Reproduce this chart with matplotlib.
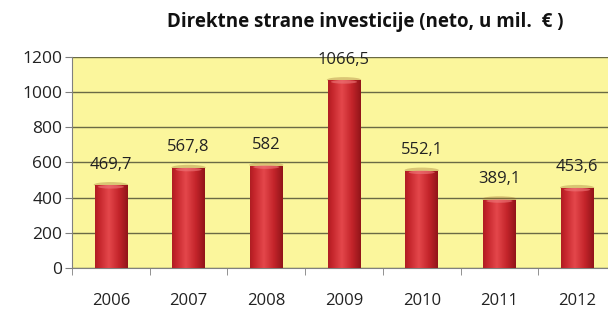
import matplotlib.pyplot as plt
import numpy as np
from matplotlib.colors import LinearSegmentedColormap
from matplotlib.patches import Ellipse

# podaci
godine = ['2006', '2007', '2008', '2009', '2010', '2011', '2012']
investicije = [469.7, 567.8, 582, 1066.5, 552.1, 389.1, 453.6]
oznake = ['469,7', '567,8', '582', '1066,5', '552,1', '389,1', '453,6']

plt.rcParams['font.family'] = ['Open Sans', 'DejaVu Sans']

fig = plt.figure(figsize=(6.08, 3.11), dpi=100)
ax = fig.add_axes([72 / 608, 43 / 311, 544 / 608, 211 / 311])
ax.set_facecolor('#fbf69c')

x = np.arange(len(godine))
sirina = 0.42
bars = ax.bar(x, investicije, width=sirina, color='#c8262b', zorder=3)

# cilindricni efekt - horizontalni gradijent preko svakog stupca
grad = np.linspace(0, 1, 64)
prof = np.clip(1 - np.abs(grad - 0.42) * 1.6, 0, 1)
cmap = LinearSegmentedColormap.from_list('cil', ['#8a1216', '#c3242a', '#e4474b'])
for b in bars:
    x0, w, h = b.get_x(), b.get_width(), b.get_height()
    # tamna sjena iznad vrha
    ax.add_patch(Ellipse((x0 + w / 2, h + 4), w * 1.05, 30, color='#9a6a2a',
                         alpha=0.35, zorder=2.5, lw=0))
    img = ax.imshow(prof[np.newaxis, :], cmap=cmap, aspect='auto',
                    extent=(x0, x0 + w, 0, h), zorder=4, vmin=0, vmax=1)
    img.set_clip_path(b)
    # svjetliji vrh
    ax.add_patch(Ellipse((x0 + w / 2, h - 8), w * 0.8, 20,
                         color='#ef7a7c', alpha=0.6, zorder=5, lw=0))

for xi, v, t in zip(x, investicije, oznake):
    ax.text(xi, v + 118, t, ha='center', va='center', fontsize=12, color='#222222', zorder=6)

ax.set_xlim(-0.5, 6.5)
ax.set_ylim(0, 1200)
ax.set_yticks(range(0, 1201, 200))
ax.grid(axis='y', color='#6a6a44', linewidth=1, zorder=1)
ax.set_axisbelow(True)

ax.set_xticks(x)
ax.set_xticklabels(godine, fontsize=12, color='#222222')
ax.tick_params(axis='x', which='major', length=0, pad=18)
ax.set_xticks(np.arange(-0.5, 6.6, 1), minor=True)
ax.tick_params(axis='x', which='minor', length=5, color='#808080', direction='out')
ax.tick_params(axis='y', labelsize=12.5, labelcolor='#222222', length=5, color='#808080', pad=2)

for s in ['top', 'right']:
    ax.spines[s].set_visible(False)
ax.spines['left'].set_color('#808080')
ax.spines['bottom'].set_color('#808080')

fig.text(0.60, 0.93, 'Direktne strane investicije (neto, u mil.  € )', ha='center',
         va='center', fontsize=13.5, fontweight='bold', color='#111111')

fig.savefig('out.png', dpi=100)
